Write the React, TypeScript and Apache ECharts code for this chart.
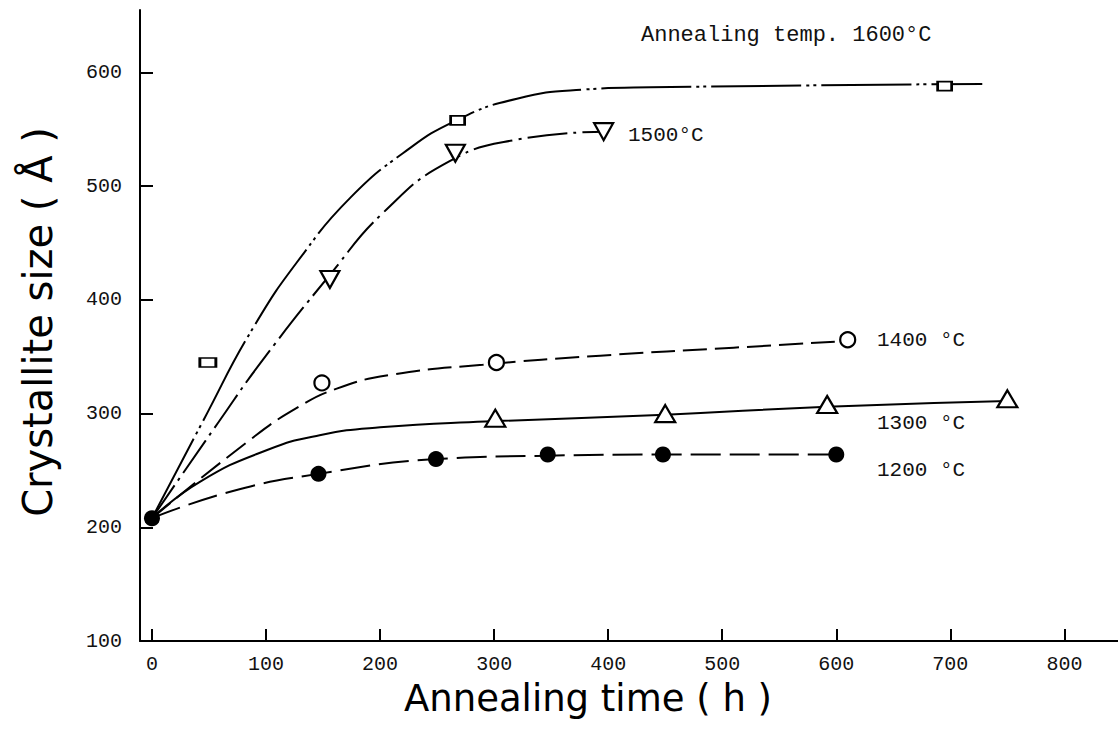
import React, { useEffect, useRef } from 'react';
import * as echarts from 'echarts';

// Axis ticks
const xTicks = [0, 100, 200, 300, 400, 500, 600, 700, 800];
const yTicks = [100, 200, 300, 400, 500, 600];

// Fitted curves: [time h, crystallite size Å]
const curve1600 = [[0, 208], [44, 292], [89, 376], [133, 441], [174, 490], [220, 529], [267, 558], [320, 577], [378, 585], [437, 587], [728, 590]];
const curve1500 = [[0, 208], [58, 292], [97, 347], [156, 422], [203, 477], [261, 522], [320, 541], [396, 548]];
const curve1400 = [[0, 208], [86, 277], [127, 305], [162, 322], [209, 334], [290, 343], [393, 351], [510, 358], [612, 364]];
const curve1300 = [[0, 208], [42, 240], [101, 268], [147, 281], [200, 288], [292, 293], [450, 299], [592, 306], [750, 311]];
const curve1200 = [[0, 208], [71, 232], [146, 247], [249, 260], [347, 263], [448, 264], [600, 264]];

// Measured points
const pts1600 = [[268, 558], [695, 588]];
const pts1600Extra = [[49, 345]];
const pts1500 = [[156, 418], [266, 529], [396, 548]];
const pts1400 = [[149, 327], [302, 345], [610, 365]];
const pts1300 = [[301, 296], [450, 300], [592, 308], [750, 313]];
const pts1200 = [[0, 208], [146, 247], [249, 260], [347, 264], [448, 264], [600, 264]];

// Texts
const titleText = 'Annealing temp. 1600°C';
const label1500 = '1500°C';
const label1400 = '1400 °C';
const label1300 = '1300 °C';
const label1200 = '1200 °C';
const xTitle = 'Annealing time ( h )';
const yTitle = 'Crystallite size ( Å )';

const BLACK = '#000';
const MONO = 'Liberation Mono, DejaVu Sans Mono, monospace';
const SANS = 'DejaVu Sans, sans-serif';

function curveSeries(data: number[][], type: any) {
  return {
    type: 'line',
    data,
    smooth: 0.5,
    showSymbol: false,
    silent: true,
    z: 2,
    lineStyle: { color: BLACK, width: 2, type },
  };
}

function markerSeries(data: number[][], symbol: string, size: any, filled: boolean, rotate = 0) {
  return {
    type: 'scatter',
    data,
    symbol,
    symbolSize: size,
    symbolRotate: rotate,
    silent: true,
    z: 5,
    itemStyle: filled
      ? { color: BLACK, opacity: 1 }
      : { color: '#fff', borderColor: BLACK, borderWidth: 2.2, opacity: 1 },
  };
}

export default function App() {
  const ref = useRef<HTMLDivElement>(null);
  useEffect(() => {
    const chart = echarts.init(ref.current!, null, { renderer: 'svg' });
    chart.setOption({
      animation: false,
      backgroundColor: '#fff',
      grid: { left: 140, right: 0, top: 10, bottom: 97, containLabel: false },
      xAxis: {
        type: 'value',
        min: -10.5,
        max: 847,
        axisLine: { show: true, onZero: false, lineStyle: { color: BLACK, width: 2 } },
        axisTick: { show: true, inside: true, length: 12, lineStyle: { color: BLACK, width: 2 }, customValues: xTicks },
        axisLabel: { customValues: xTicks, color: '#111', fontFamily: MONO, fontSize: 20, margin: 13 },
        splitLine: { show: false },
      },
      yAxis: {
        type: 'value',
        min: 100,
        max: 655,
        axisLine: { show: true, onZero: false, lineStyle: { color: BLACK, width: 2 } },
        axisTick: { show: true, inside: true, length: 13, lineStyle: { color: BLACK, width: 2 }, customValues: yTicks },
        axisLabel: { customValues: yTicks, color: '#111', fontFamily: MONO, fontSize: 20, margin: 18 },
        splitLine: { show: false },
      },
      series: [
        curveSeries(curve1600, [90, 5, 3, 4, 3, 5]),
        curveSeries(curve1500, [40, 6, 3, 6]),
        curveSeries(curve1400, [24, 8]),
        curveSeries(curve1300, 'solid'),
        curveSeries(curve1200, [30, 9]),
        markerSeries(pts1600, 'rect', [14, 9], false),
        markerSeries(pts1600Extra, 'rect', [16, 9], false),
        markerSeries(pts1500, 'triangle', [19, 17], false, 180),
        markerSeries(pts1400, 'circle', 15, false),
        markerSeries(pts1300, 'triangle', [20, 17], false),
        markerSeries(pts1200, 'circle', 16, true),
      ],
      graphic: [
        { type: 'text', x: 641, y: 35, style: { text: titleText, fontSize: 22, fontFamily: MONO, fill: '#111', align: 'left', verticalAlign: 'middle' } },
        { type: 'text', x: 628, y: 135, style: { text: label1500, fontSize: 21, fontFamily: MONO, fill: '#111', align: 'left', verticalAlign: 'middle' } },
        { type: 'text', x: 877, y: 340, style: { text: label1400, fontSize: 21, fontFamily: MONO, fill: '#111', align: 'left', verticalAlign: 'middle' } },
        { type: 'text', x: 877, y: 423, style: { text: label1300, fontSize: 21, fontFamily: MONO, fill: '#111', align: 'left', verticalAlign: 'middle' } },
        { type: 'text', x: 877, y: 470, style: { text: label1200, fontSize: 21, fontFamily: MONO, fill: '#111', align: 'left', verticalAlign: 'middle' } },
        { type: 'text', x: 588, y: 698, style: { text: xTitle, fontSize: 37, fontFamily: SANS, fill: '#000', align: 'center', verticalAlign: 'middle' } },
        { type: 'text', x: 38, y: 322, rotation: Math.PI / 2, style: { text: yTitle, fontSize: 40, fontFamily: SANS, fill: '#000', align: 'center', verticalAlign: 'middle' } },
      ],
    });
    return () => chart.dispose();
  }, []);
  return (
    <div
      ref={ref}
      style={{ position: 'fixed', left: 0, top: 0, width: 1118, height: 738, background: '#fff' }}
    />
  );
}
